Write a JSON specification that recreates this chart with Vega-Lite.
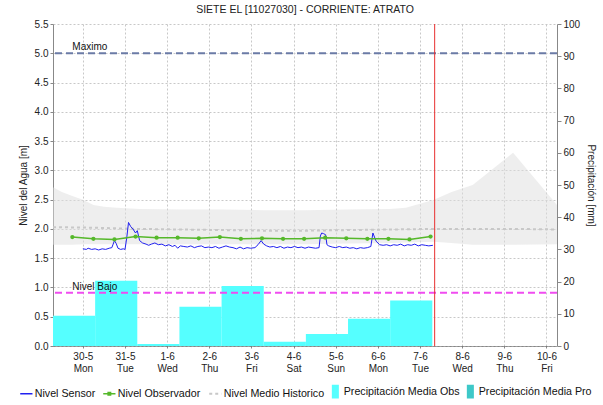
{
  "$schema": "https://vega.github.io/schema/vega-lite/v6.json",
  "autosize": {"type": "none"},
  "padding": {"left": 53, "top": 24, "right": 46, "bottom": 59},
  "width": 504,
  "height": 322,
  "background": "white",
  "title": {"text": "SIETE EL [11027030] - CORRIENTE: ATRATO", "fontSize": 10.5, "fontWeight": "normal", "font": "Liberation Sans", "color": "#222222", "offset": 4, "anchor": "middle"},
  "config": {
    "font": "Liberation Sans",
    "view": {"stroke": null},
    "axis": {"labelFont": "Liberation Sans", "labelFontSize": 10, "labelColor": "#222222", "titleFont": "Liberation Sans", "titleFontSize": 10, "titleFontWeight": "normal", "titleColor": "#222222", "gridColor": "#c8c8c8", "gridDash": [2, 2], "tickColor": "#888888", "domainColor": "#888888"}
  },
  "datasets": {
    "band": [
      {"t": "2022-05-29T07:00:00Z", "lo": 1.73, "hi": 2.71},
      {"t": "2022-05-29T12:00:00Z", "lo": 1.73, "hi": 2.63},
      {"t": "2022-05-29T18:00:00Z", "lo": 1.73, "hi": 2.56},
      {"t": "2022-05-30T00:00:00Z", "lo": 1.74, "hi": 2.5},
      {"t": "2022-05-30T06:00:00Z", "lo": 1.74, "hi": 2.41},
      {"t": "2022-05-30T12:00:00Z", "lo": 1.74, "hi": 2.38},
      {"t": "2022-05-30T19:00:00Z", "lo": 1.74, "hi": 2.36},
      {"t": "2022-05-31T08:00:00Z", "lo": 1.74, "hi": 2.34},
      {"t": "2022-06-01T07:00:00Z", "lo": 1.74, "hi": 2.33},
      {"t": "2022-06-02T07:00:00Z", "lo": 1.74, "hi": 2.33},
      {"t": "2022-06-03T07:00:00Z", "lo": 1.74, "hi": 2.32},
      {"t": "2022-06-04T07:00:00Z", "lo": 1.74, "hi": 2.32},
      {"t": "2022-06-05T07:00:00Z", "lo": 1.75, "hi": 2.33},
      {"t": "2022-06-06T07:00:00Z", "lo": 1.76, "hi": 2.34},
      {"t": "2022-06-06T16:00:00Z", "lo": 1.77, "hi": 2.36},
      {"t": "2022-06-07T08:00:00Z", "lo": 1.78, "hi": 2.5},
      {"t": "2022-06-07T18:00:00Z", "lo": 1.76, "hi": 2.63},
      {"t": "2022-06-08T06:00:00Z", "lo": 1.73, "hi": 2.75},
      {"t": "2022-06-09T05:00:00Z", "lo": 1.73, "hi": 3.3},
      {"t": "2022-06-10T06:00:00Z", "lo": 1.74, "hi": 2.41}
    ],
    "hist": [
      {"t": "2022-05-29T07:00:00Z", "v": 2.03},
      {"t": "2022-05-30T07:00:00Z", "v": 2.02},
      {"t": "2022-05-31T07:00:00Z", "v": 2.0},
      {"t": "2022-06-01T07:00:00Z", "v": 1.99},
      {"t": "2022-06-02T07:00:00Z", "v": 1.98},
      {"t": "2022-06-03T07:00:00Z", "v": 1.97},
      {"t": "2022-06-04T07:00:00Z", "v": 1.97},
      {"t": "2022-06-05T07:00:00Z", "v": 1.98},
      {"t": "2022-06-06T07:00:00Z", "v": 1.99},
      {"t": "2022-06-07T07:00:00Z", "v": 2.0},
      {"t": "2022-06-08T07:00:00Z", "v": 2.0},
      {"t": "2022-06-09T07:00:00Z", "v": 2.0},
      {"t": "2022-06-10T06:00:00Z", "v": 1.99}
    ],
    "precip": [
      {"t0": "2022-05-29T07:00:00Z", "t1": "2022-05-30T07:00:00Z", "mm": 9.4},
      {"t0": "2022-05-30T07:00:00Z", "t1": "2022-05-31T07:00:00Z", "mm": 20.3},
      {"t0": "2022-05-31T07:00:00Z", "t1": "2022-06-01T07:00:00Z", "mm": 0.6},
      {"t0": "2022-06-01T07:00:00Z", "t1": "2022-06-02T07:00:00Z", "mm": 12.2},
      {"t0": "2022-06-02T07:00:00Z", "t1": "2022-06-03T07:00:00Z", "mm": 18.6},
      {"t0": "2022-06-03T07:00:00Z", "t1": "2022-06-04T07:00:00Z", "mm": 1.3},
      {"t0": "2022-06-04T07:00:00Z", "t1": "2022-06-05T07:00:00Z", "mm": 3.7},
      {"t0": "2022-06-05T07:00:00Z", "t1": "2022-06-06T07:00:00Z", "mm": 8.5},
      {"t0": "2022-06-06T07:00:00Z", "t1": "2022-06-07T07:00:00Z", "mm": 14.1}
    ],
    "obs": [
      {"t": "2022-05-29T18:00:00Z", "v": 1.86},
      {"t": "2022-05-30T06:00:00Z", "v": 1.83},
      {"t": "2022-05-30T18:00:00Z", "v": 1.82},
      {"t": "2022-05-31T06:00:00Z", "v": 1.87},
      {"t": "2022-05-31T18:00:00Z", "v": 1.85},
      {"t": "2022-06-01T06:00:00Z", "v": 1.85},
      {"t": "2022-06-01T18:00:00Z", "v": 1.84},
      {"t": "2022-06-02T06:00:00Z", "v": 1.86},
      {"t": "2022-06-02T18:00:00Z", "v": 1.83},
      {"t": "2022-06-03T06:00:00Z", "v": 1.84},
      {"t": "2022-06-03T18:00:00Z", "v": 1.83},
      {"t": "2022-06-04T06:00:00Z", "v": 1.83},
      {"t": "2022-06-04T18:00:00Z", "v": 1.85},
      {"t": "2022-06-05T06:00:00Z", "v": 1.84},
      {"t": "2022-06-05T18:00:00Z", "v": 1.83},
      {"t": "2022-06-06T06:00:00Z", "v": 1.83},
      {"t": "2022-06-06T18:00:00Z", "v": 1.82},
      {"t": "2022-06-07T06:00:00Z", "v": 1.87}
    ],
    "sensor": [
      {"t": "2022-05-30T00:00:00Z", "v": 1.66},
      {"t": "2022-05-30T02:00:00Z", "v": 1.65},
      {"t": "2022-05-30T03:00:00Z", "v": 1.67},
      {"t": "2022-05-30T05:00:00Z", "v": 1.65},
      {"t": "2022-05-30T07:00:00Z", "v": 1.66},
      {"t": "2022-05-30T09:00:00Z", "v": 1.64},
      {"t": "2022-05-30T11:00:00Z", "v": 1.66},
      {"t": "2022-05-30T13:00:00Z", "v": 1.65},
      {"t": "2022-05-30T15:00:00Z", "v": 1.67},
      {"t": "2022-05-30T16:30:00Z", "v": 1.68},
      {"t": "2022-05-30T17:15:00Z", "v": 1.74},
      {"t": "2022-05-30T18:00:00Z", "v": 1.8},
      {"t": "2022-05-30T19:00:00Z", "v": 1.75},
      {"t": "2022-05-30T20:00:00Z", "v": 1.67},
      {"t": "2022-05-30T21:30:00Z", "v": 1.65},
      {"t": "2022-05-30T23:00:00Z", "v": 1.66},
      {"t": "2022-05-31T00:00:00Z", "v": 1.65},
      {"t": "2022-05-31T01:00:00Z", "v": 1.85},
      {"t": "2022-05-31T02:00:00Z", "v": 2.11},
      {"t": "2022-05-31T03:15:00Z", "v": 2.04},
      {"t": "2022-05-31T04:30:00Z", "v": 2.0},
      {"t": "2022-05-31T06:00:00Z", "v": 1.93},
      {"t": "2022-05-31T07:00:00Z", "v": 1.97},
      {"t": "2022-05-31T08:20:00Z", "v": 1.8},
      {"t": "2022-05-31T10:00:00Z", "v": 1.76},
      {"t": "2022-05-31T12:00:00Z", "v": 1.74},
      {"t": "2022-05-31T13:30:00Z", "v": 1.72},
      {"t": "2022-05-31T15:00:00Z", "v": 1.74},
      {"t": "2022-05-31T17:00:00Z", "v": 1.76},
      {"t": "2022-05-31T19:00:00Z", "v": 1.73},
      {"t": "2022-05-31T21:00:00Z", "v": 1.74},
      {"t": "2022-05-31T23:00:00Z", "v": 1.71},
      {"t": "2022-06-01T01:00:00Z", "v": 1.73},
      {"t": "2022-06-01T03:00:00Z", "v": 1.7},
      {"t": "2022-06-01T04:30:00Z", "v": 1.72},
      {"t": "2022-06-01T06:00:00Z", "v": 1.67},
      {"t": "2022-06-01T07:30:00Z", "v": 1.71},
      {"t": "2022-06-01T09:30:00Z", "v": 1.7},
      {"t": "2022-06-01T11:30:00Z", "v": 1.69},
      {"t": "2022-06-01T13:30:00Z", "v": 1.71},
      {"t": "2022-06-01T15:30:00Z", "v": 1.68},
      {"t": "2022-06-01T17:30:00Z", "v": 1.7},
      {"t": "2022-06-01T19:30:00Z", "v": 1.71},
      {"t": "2022-06-01T21:30:00Z", "v": 1.68},
      {"t": "2022-06-01T23:30:00Z", "v": 1.69},
      {"t": "2022-06-02T01:30:00Z", "v": 1.68},
      {"t": "2022-06-02T03:30:00Z", "v": 1.7},
      {"t": "2022-06-02T05:30:00Z", "v": 1.67},
      {"t": "2022-06-02T07:30:00Z", "v": 1.69},
      {"t": "2022-06-02T09:30:00Z", "v": 1.71},
      {"t": "2022-06-02T11:30:00Z", "v": 1.69},
      {"t": "2022-06-02T13:30:00Z", "v": 1.68},
      {"t": "2022-06-02T15:30:00Z", "v": 1.66},
      {"t": "2022-06-02T17:30:00Z", "v": 1.69},
      {"t": "2022-06-02T19:30:00Z", "v": 1.66},
      {"t": "2022-06-02T21:30:00Z", "v": 1.68},
      {"t": "2022-06-02T23:30:00Z", "v": 1.67},
      {"t": "2022-06-03T02:00:00Z", "v": 1.68},
      {"t": "2022-06-03T03:45:00Z", "v": 1.73},
      {"t": "2022-06-03T05:30:00Z", "v": 1.8},
      {"t": "2022-06-03T07:00:00Z", "v": 1.74},
      {"t": "2022-06-03T08:40:00Z", "v": 1.71},
      {"t": "2022-06-03T10:30:00Z", "v": 1.69},
      {"t": "2022-06-03T12:30:00Z", "v": 1.7},
      {"t": "2022-06-03T14:30:00Z", "v": 1.68},
      {"t": "2022-06-03T16:30:00Z", "v": 1.7},
      {"t": "2022-06-03T18:30:00Z", "v": 1.67},
      {"t": "2022-06-03T20:30:00Z", "v": 1.69},
      {"t": "2022-06-03T22:30:00Z", "v": 1.68},
      {"t": "2022-06-04T00:30:00Z", "v": 1.7},
      {"t": "2022-06-04T02:30:00Z", "v": 1.68},
      {"t": "2022-06-04T04:30:00Z", "v": 1.69},
      {"t": "2022-06-04T06:30:00Z", "v": 1.67},
      {"t": "2022-06-04T08:30:00Z", "v": 1.69},
      {"t": "2022-06-04T10:30:00Z", "v": 1.68},
      {"t": "2022-06-04T12:30:00Z", "v": 1.67},
      {"t": "2022-06-04T14:30:00Z", "v": 1.68},
      {"t": "2022-06-04T15:15:00Z", "v": 1.88},
      {"t": "2022-06-04T16:00:00Z", "v": 1.93},
      {"t": "2022-06-04T17:00:00Z", "v": 1.92},
      {"t": "2022-06-04T18:15:00Z", "v": 1.9},
      {"t": "2022-06-04T19:00:00Z", "v": 1.73},
      {"t": "2022-06-04T20:00:00Z", "v": 1.71},
      {"t": "2022-06-04T22:00:00Z", "v": 1.69},
      {"t": "2022-06-05T00:00:00Z", "v": 1.68},
      {"t": "2022-06-05T02:00:00Z", "v": 1.7},
      {"t": "2022-06-05T04:00:00Z", "v": 1.68},
      {"t": "2022-06-05T06:00:00Z", "v": 1.69},
      {"t": "2022-06-05T08:00:00Z", "v": 1.67},
      {"t": "2022-06-05T10:00:00Z", "v": 1.68},
      {"t": "2022-06-05T12:00:00Z", "v": 1.66},
      {"t": "2022-06-05T14:00:00Z", "v": 1.68},
      {"t": "2022-06-05T16:00:00Z", "v": 1.67},
      {"t": "2022-06-05T18:00:00Z", "v": 1.68},
      {"t": "2022-06-05T20:00:00Z", "v": 1.7},
      {"t": "2022-06-05T21:10:00Z", "v": 1.93},
      {"t": "2022-06-05T23:00:00Z", "v": 1.79},
      {"t": "2022-06-06T01:00:00Z", "v": 1.73},
      {"t": "2022-06-06T03:00:00Z", "v": 1.72},
      {"t": "2022-06-06T05:00:00Z", "v": 1.73},
      {"t": "2022-06-06T07:00:00Z", "v": 1.71},
      {"t": "2022-06-06T09:00:00Z", "v": 1.73},
      {"t": "2022-06-06T11:00:00Z", "v": 1.72},
      {"t": "2022-06-06T13:00:00Z", "v": 1.74},
      {"t": "2022-06-06T15:00:00Z", "v": 1.71},
      {"t": "2022-06-06T17:00:00Z", "v": 1.73},
      {"t": "2022-06-06T19:00:00Z", "v": 1.72},
      {"t": "2022-06-06T21:00:00Z", "v": 1.74},
      {"t": "2022-06-06T23:00:00Z", "v": 1.71},
      {"t": "2022-06-07T01:00:00Z", "v": 1.73},
      {"t": "2022-06-07T03:00:00Z", "v": 1.72},
      {"t": "2022-06-07T05:00:00Z", "v": 1.71},
      {"t": "2022-06-07T07:20:00Z", "v": 1.72}
    ],
    "levels": [
      {"name": "Maximo", "v": 5.0, "t": "2022-05-29T18:00:00Z"},
      {"name": "Nivel Bajo", "v": 0.91, "t": "2022-05-29T18:00:00Z"}
    ],
    "now": [
      {"t": "2022-06-07T08:20:00Z"}
    ]
  },
  "layer": [
    {
      "data": {"name": "band"},
      "mark": {"type": "area", "color": "#dedede", "opacity": 0.5},
      "encoding": {
        "x": {"field": "t", "type": "temporal",
          "scale": {"type": "utc", "domain": [{"year": 2022, "month": 5, "date": 29, "hours": 7, "utc": true}, {"year": 2022, "month": 6, "date": 10, "hours": 6, "utc": true}]},
          "axis": {"title": null, "grid": true, "tickCount": {"interval": "day", "step": 1}, "labelExpr": "[utcFormat(datum.value, '%-d-%-m'), utcFormat(datum.value, '%a')]", "labelAlign": "center", "labelPadding": 3, "labelLineHeight": 12, "tickSize": 2, "domainDash": [1, 1], "domainColor": "#444444", "labelFlush": false, "labelOverlap": false}},
        "y": {"field": "lo", "type": "quantitative", "scale": {"domain": [0, 5.5], "nice": false, "zero": false},
          "axis": {"orient": "left", "title": "Nivel del Agua [m]", "values": [0, 0.5, 1, 1.5, 2, 2.5, 3, 3.5, 4, 4.5, 5, 5.5], "labelOverlap": false, "format": ".1f", "grid": true, "tickSize": 3, "labelPadding": 2, "titlePadding": 6}},
        "y2": {"field": "hi"}
      }
    },
    {
      "data": {"name": "hist"},
      "mark": {"type": "line", "strokeWidth": 2, "strokeDash": [3, 3]},
      "encoding": {
        "x": {"field": "t", "type": "temporal"},
        "y": {"field": "v", "type": "quantitative", "scale": {"domain": [0, 5.5], "nice": false, "zero": false}, "axis": null},
        "color": {"datum": "Nivel Medio Historico", "type": "nominal",
          "scale": {"domain": ["Nivel Sensor", "Nivel Observador", "Nivel Medio Historico", "Precipitación Media Obs", "Precipitación Media Pro"], "range": ["#2020f0", "#55b82a", "#c8c8c8", "#55ffff", "#3ec8c8"]},
          "legend": {"orient": "none", "legendX": -32, "legendY": 362, "direction": "horizontal", "title": null, "padding": 0, "labelFontSize": 10.7, "labelFont": "Liberation Sans", "labelColor": "#111111", "symbolSize": 150, "columnPadding": 4, "labelOffset": 3,
            "encode": {"symbols": {"update": {
              "shape": {"signal": "test(/Precip/, datum.value) ? 'M-0.45,-1H0.45V1H-0.45Z' : (datum.value === 'Nivel Observador' ? 'M-1,0H1M-0.2,-0.2H0.2V0.2H-0.2Z' : 'stroke')"},
              "fill": {"signal": "datum.value === 'Nivel Sensor' || datum.value === 'Nivel Medio Historico' ? 'transparent' : scale('color', datum.value)"},
              "stroke": {"signal": "test(/Precip/, datum.value) ? 'transparent' : scale('color', datum.value)"},
              "strokeWidth": {"signal": "datum.value === 'Nivel Medio Historico' ? 2 : 1.5"},
              "strokeDash": {"signal": "datum.value === 'Nivel Medio Historico' ? [3, 3] : [1, 0]"},
              "opacity": {"value": 1}
            }}}}
        }
      }
    },
    {
      "data": {"name": "precip"},
      "mark": {"type": "rect"},
      "encoding": {
        "x": {"field": "t0", "type": "temporal"},
        "x2": {"field": "t1"},
        "y": {"field": "mm", "type": "quantitative", "scale": {"domain": [0, 100], "nice": false},
          "axis": {"orient": "right", "title": "Precipitación [mm]", "values": [0, 10, 20, 30, 40, 50, 60, 70, 80, 90, 100], "grid": false, "tickSize": 4, "labelPadding": 2, "titlePadding": 6}},
        "y2": {"datum": 0},
        "color": {"datum": "Precipitación Media Obs", "type": "nominal"}
      }
    },
    {
      "data": {"name": "sensor"},
      "mark": {"type": "line", "strokeWidth": 1},
      "encoding": {
        "x": {"field": "t", "type": "temporal"},
        "y": {"field": "v", "type": "quantitative", "scale": {"domain": [0, 5.5], "nice": false, "zero": false}, "axis": null},
        "color": {"datum": "Nivel Sensor", "type": "nominal"}
      }
    },
    {
      "data": {"name": "obs"},
      "mark": {"type": "line", "strokeWidth": 1.5, "point": {"filled": true, "size": 18, "opacity": 1}},
      "encoding": {
        "x": {"field": "t", "type": "temporal"},
        "y": {"field": "v", "type": "quantitative", "scale": {"domain": [0, 5.5], "nice": false, "zero": false}, "axis": null},
        "color": {"datum": "Nivel Observador", "type": "nominal"}
      }
    },
    {
      "data": {"name": "levels"},
      "mark": {"type": "rule", "strokeWidth": 2, "strokeDash": [7, 4]},
      "encoding": {
        "y": {"field": "v", "type": "quantitative", "scale": {"domain": [0, 5.5], "nice": false, "zero": false}, "axis": null},
        "stroke": {"field": "name", "type": "nominal", "scale": {"domain": ["Maximo", "Nivel Bajo"], "range": ["#6b7ba6", "#f04cf0"]}, "legend": null}
      }
    },
    {
      "data": {"name": "levels"},
      "mark": {"type": "text", "align": "left", "baseline": "bottom", "dy": -1, "fontSize": 10, "font": "Liberation Sans", "color": "#111111"},
      "encoding": {
        "x": {"field": "t", "type": "temporal"},
        "y": {"field": "v", "type": "quantitative", "scale": {"domain": [0, 5.5], "nice": false, "zero": false}, "axis": null},
        "text": {"field": "name"}
      }
    },
    {
      "data": {"name": "now"},
      "mark": {"type": "rule", "color": "#e83030", "strokeWidth": 1},
      "encoding": {
        "x": {"field": "t", "type": "temporal"}
      }
    }
  ],
  "resolve": {"scale": {"y": "independent"}}
}
